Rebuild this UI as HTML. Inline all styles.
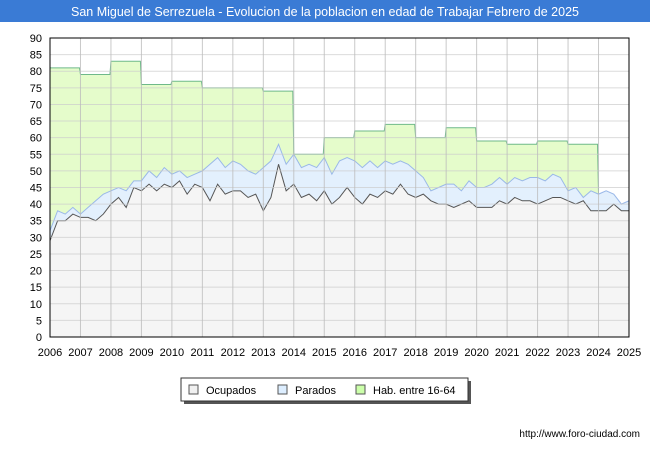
<!DOCTYPE html>
<html><head><meta charset="utf-8"><style>
body{margin:0;width:650px;height:450px;background:#fff;font-family:"Liberation Sans",sans-serif;overflow:hidden}
</style></head><body>
<svg width="650" height="450" style="position:absolute;left:0;top:0">
<rect x="0" y="0" width="650" height="450" fill="#fff"/>
<rect x="0" y="0" width="650" height="22" fill="#3a7bd5"/>
<text x="325" y="16" text-anchor="middle" font-size="12.5" fill="#fff">San Miguel de Serrezuela - Evolucion de la poblacion en edad de Trabajar Febrero de 2025</text>
<rect x="50" y="38" width="579" height="299" fill="#fff"/>
<g id="areas"></g>
<g id="grid"></g>
<g id="axes"></g>
<g>
<rect x="184" y="381" width="287" height="23" fill="#555"/>
<rect x="181" y="378" width="287" height="23" fill="#fff" stroke="#333"/>
<rect x="189" y="385" width="9" height="9" fill="#f0f0f0" stroke="#555"/>
<text x="206" y="394" font-size="11" fill="#000">Ocupados</text>
<rect x="278" y="385" width="9" height="9" fill="#ddeeff" stroke="#555"/>
<text x="295" y="394" font-size="11" fill="#000">Parados</text>
<rect x="356" y="385" width="9" height="9" fill="#ccffaa" stroke="#555"/>
<text x="373" y="394" font-size="11" fill="#000">Hab. entre 16-64</text>
</g>
<text x="640" y="437" text-anchor="end" font-size="10" fill="#000">http://www.foro-ciudad.com</text>
</svg>
<script>
const years=[2006,2007,2008,2009,2010,2011,2012,2013,2014,2015,2016,2017,2018,2019,2020,2021,2022,2023,2024,2025];
const yTicks=[0,5,10,15,20,25,30,35,40,45,50,55,60,65,70,75,80,85,90];
const habYear=[81,79,83,76,77,75,75,74,55,60,62,64,60,63,59,58,59,58];
const ocupados=[29,35,35,37,36,36,35,37,40,42,39,45,44,46,44,46,45,47,43,46,45,41,46,43,44,44,42,43,38,42,52,44,46,42,43,41,44,40,42,45,42,40,43,42,44,43,46,43,42,43,41,40,40,39,40,41,39,39,39,41,40,42,41,41,40,41,42,42,41,40,41,38,38,38,40,38,38];
const totales=[32,38,37,39,37,39,41,43,44,45,44,47,47,50,48,51,49,50,48,49,50,52,54,51,53,52,50,49,51,53,58,52,55,51,52,51,54,49,53,54,53,51,53,51,53,52,53,52,50,48,44,45,46,46,44,47,45,45,46,48,46,48,47,48,48,47,49,48,44,45,42,44,43,44,43,40,41];
const parados=totales.map((t,i)=>t-ocupados[i]);
const L=50,R=629,T=38,B=337;
const xs=v=>L+(v-2006)/(2025-2006)*(R-L);
const ys=v=>B-v/90*(B-T);
const NS='http://www.w3.org/2000/svg';
function mk(tag,attrs,parent){const e=document.createElementNS(NS,tag);for(const k in attrs)e.setAttribute(k,attrs[k]);parent.appendChild(e);return e;}
const grid=document.getElementById('grid'),areas=document.getElementById('areas'),axes=document.getElementById('axes');
yTicks.forEach(v=>{const l=mk('line',{x1:L,x2:R,y1:ys(v),y2:ys(v),stroke:'#ccc','stroke-opacity':0.7},grid);


const t=mk('text',{x:L-8,y:ys(v)+4,'text-anchor':'end','font-size':11,fill:'#000'},axes);t.textContent=v;

});
years.forEach(v=>{const l=mk('line',{x1:xs(v),x2:xs(v),y1:T,y2:B,stroke:'#bbb','stroke-opacity':0.8},grid);


const t=mk('text',{x:xs(v),y:B+19,'text-anchor':'middle','font-size':11,fill:'#000'},axes);t.textContent=v;

});
const n=ocupados.length,px=i=>xs(2006+i*(19/(n-1)));
const endYear=2006+habYear.length;
let hp=`M${xs(2006)},${B}`;habYear.forEach((h,i)=>{hp+=` L${xs(2006+i)},${ys(h)} L${xs(2007+i)-1},${ys(h)}`;});
const iEnd=Math.round((endYear-2006)/19*(n-1));
hp+=` L${xs(endYear)},${ys(totales[iEnd])} L${xs(endYear)},${B} Z`;
const ha=mk('path',{d:hp,fill:'#e5fccb',stroke:'#6fb98a','stroke-width':1},areas);


let tp=`M${px(0)},${B}`;ocupados.forEach((o,i)=>tp+=` L${px(i)},${ys(o+parados[i])}`);tp+=` L${px(n-1)},${B} Z`;
const pa=mk('path',{d:tp,fill:'#e3f0fd',stroke:'#9ab8e8','stroke-width':1},areas);


let op=`M${px(0)},${B}`;ocupados.forEach((o,i)=>op+=` L${px(i)},${ys(o)}`);op+=` L${px(n-1)},${B} Z`;
const oa=mk('path',{d:op,fill:'#f5f5f5',stroke:'#555','stroke-width':1},areas);


mk('rect',{x:L,y:T,width:R-L,height:B-T,fill:'none',stroke:'#000'},axes);
</script>
</body></html>
